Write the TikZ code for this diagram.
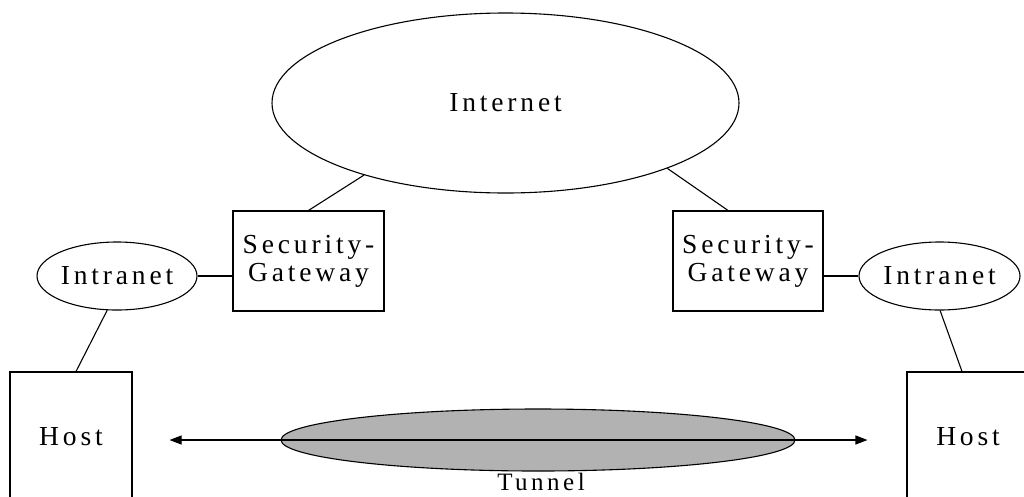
\documentclass[tikz,border=0pt]{standalone}
\usepackage{fontspec}
\setmainfont{Liberation Serif}[LetterSpace=14]
\usetikzlibrary{shapes.geometric,arrows.meta,calc}

\tikzset{
  label text/.style={font=\fontsize{27.5}{28}\selectfont},
  cloud/.style={draw, ellipse, inner sep=0pt, label text},
  box/.style={draw, rectangle, inner sep=0pt, align=center, label text},
  link/.style={line width=1.1pt},
  tip/.style={-{Triangle[length=12pt,width=9pt]}}
}

\begin{document}
\begin{tikzpicture}[x=1pt, y=-1pt, line width=1.1pt]
  \clip (0,0) rectangle (1024,496);

  % network clouds
  \node[cloud, minimum width=467pt, minimum height=180pt] (inet) at (505.5,103) {Internet};
  \node[cloud, minimum width=160pt, minimum height=68pt] (iL) at (117,276) {Intranet};
  \node[cloud, minimum width=161pt, minimum height=68pt] (iR) at (939.5,276) {Intranet};

  % gateways and hosts
  \node[box, minimum width=151pt, minimum height=100pt] (gwL) at (308.5,261) {Security-\\Gateway};
  \node[box, minimum width=150pt, minimum height=100pt] (gwR) at (748,261) {Security-\\Gateway};
  \node[box, minimum width=122pt, minimum height=130pt] (hostL) at (71,437) {Host};
  \node[box, minimum width=122pt, minimum height=130pt] (hostR) at (968,437) {Host};

  % tunnel between the hosts
  \node[draw, ellipse, fill=black!30, inner sep=0pt,
        minimum width=514pt, minimum height=62pt] (tunnel) at (538,440) {};
  \node[font=\fontsize{25}{26}\selectfont, inner sep=0pt] (tunnelLabel) at (541,482) {Tunnel};

  % links
  \draw[link] (gwL.north) -- (inet.-153.2);
  \draw[link] ($(gwR.north)+(-20,0)$) -- (inet.-22.9);
  \draw[link] (iL.east) -- (gwL.west |- iL.east);
  \draw[link] (iR.west) -- (gwR.east |- iR.west);
  \draw[link] (iL.-106) -- ($(hostL.north)+(5,0)$);
  \draw[link] (iR.-89) -- ($(hostR.north)+(-6,0)$);

  % tunnel arrows
  \draw[link, tip, shorten >=37pt] (tunnel.center) -- (hostL.east |- tunnel.center);
  \draw[link, tip, shorten >=39pt] (tunnel.center) -- (hostR.west |- tunnel.center);
\end{tikzpicture}
\end{document}
